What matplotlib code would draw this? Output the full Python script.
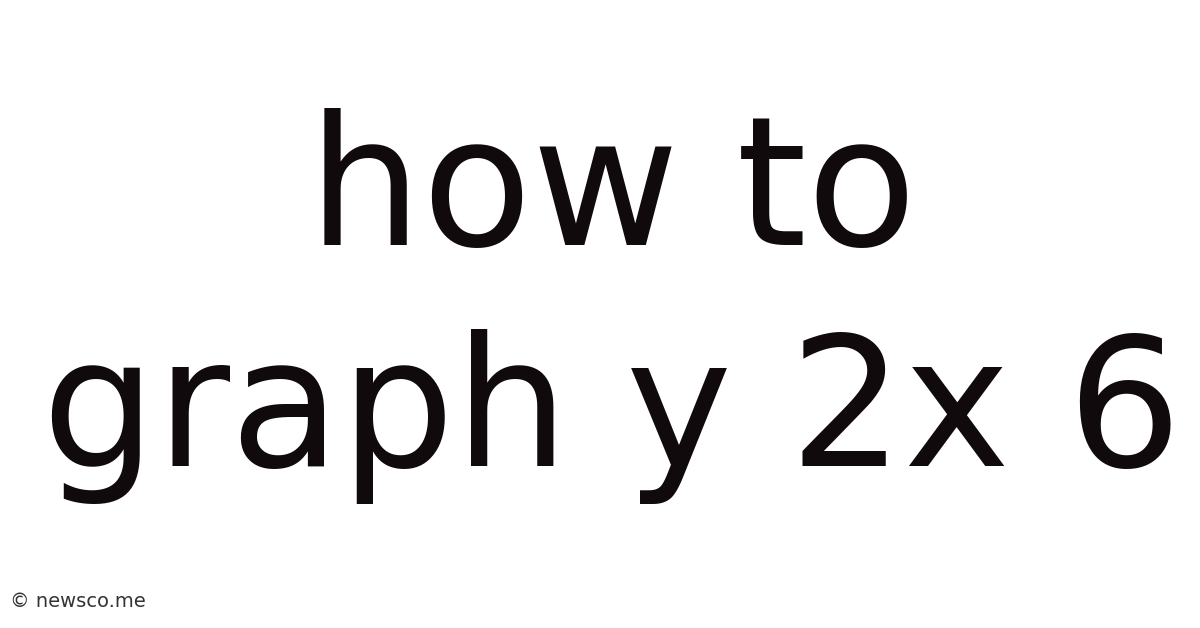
import matplotlib
matplotlib.use("Agg")
import matplotlib.pyplot as plt

title_lines = ["how to", "graph y 2x 6"]
watermark = "© newsco.me"

W, H = 1200, 628
fig = plt.figure(figsize=(W / 100, H / 100), dpi=100)
fig.patch.set_facecolor("white")

color = "#110a0c"
baselines_px = [245, 466]
for line, by in zip(title_lines, baselines_px):
    fig.text(612 / W, 1 - by / H, line, ha="center", va="baseline",
             fontsize=129.5, color=color, family="DejaVu Sans")

fig.text(10 / W, 1 - 607 / H, watermark, ha="left", va="baseline",
         fontsize=14, color="#333333", family="DejaVu Sans")

fig.savefig("out.png", dpi=100, facecolor="white")
